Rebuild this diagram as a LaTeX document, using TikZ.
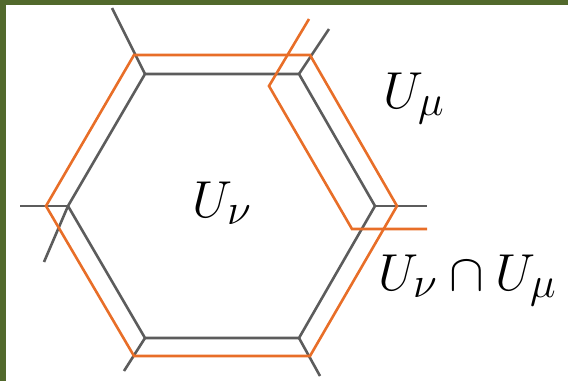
\documentclass[tikz,border=0pt]{standalone}
\usepackage{tikz}
\definecolor{figO}{RGB}{232,110,40}
\definecolor{figK}{RGB}{92,92,92}
\definecolor{figF}{RGB}{82,105,44}
\tikzset{cell/.style={figK, line width=2.6pt, line join=miter},
  patch/.style={figO, line width=2.6pt, line join=miter},
  lab/.style={anchor=base west, inner sep=0pt, font=\Huge, scale=2.09}}

\begin{document}
\begin{tikzpicture}[x=1pt, y=-1pt]
\useasboundingbox (0,0) rectangle (568,381);
% frame
\fill[figF] (0,0) rectangle (6,381);
\fill[figF] (0,0) rectangle (568,5);
% U_nu cell and its neighbours' edges
\coordinate (A) at (145,74);
\coordinate (B) at (299,74);
\coordinate (C) at (375,206);
\coordinate (D) at (299,338);
\coordinate (E) at (145,338);
\coordinate (F) at (68,206);
\draw[cell] (A) -- (B) -- (C) -- (D) -- (E) -- (F) -- cycle;
\draw[cell] (A) -- (112,8);
\draw[cell] (B) -- (329,29);
\draw[cell] (C) -- (427,206);
\draw[cell] (D) -- (320,376);
\draw[cell] (E) -- (124,371);
\draw[cell] (F) -- (20,206);
\draw[cell] (F) -- (44,262);
% open set around U_nu
\draw[patch] (134,55) -- (310,55) -- (397,206) -- (310,356) -- (134,356) -- (46,206) -- cycle;
% part of U_mu
\draw[patch] (309,19) -- (269,86) -- (352,229) -- (427,229);
% labels
\node[lab] (nu) at (192,217) {$U_\nu$};
\node[lab] (mu) at (383,108) {$U_\mu$};
\node[lab] (cap) at (378,290) {$U_\nu\cap U_\mu$};
\end{tikzpicture}
\end{document}
